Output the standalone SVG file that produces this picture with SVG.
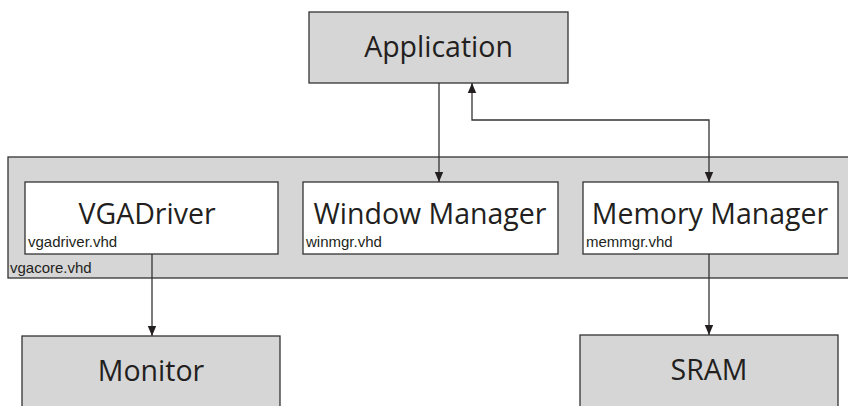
<svg xmlns="http://www.w3.org/2000/svg" width="848" height="406" viewBox="0 0 848 406">
  <style>
    .gray { fill: #d6d6d6; stroke: #333333; stroke-width: 1.3; }
    .white { fill: #ffffff; stroke: #333333; stroke-width: 1.3; }
    .title { font-family: "Open Sans", "Noto Sans", sans-serif; font-size: 28.5px; fill: #231f20; text-anchor: middle; }
    .file { font-family: "Liberation Sans", Arial, sans-serif; font-size: 15px; fill: #231f20; }
    .wire { fill: none; stroke: #333333; stroke-width: 1.3; }
  </style>
  <defs>
    <marker id="head" viewBox="0 0 10 10" refX="10" refY="5" markerWidth="10" markerHeight="10" markerUnits="userSpaceOnUse" orient="auto-start-reverse">
      <path d="M0,0.8 L10,5 L0,9.2 Z" fill="#231f20"/>
    </marker>
  </defs>

  <!-- top level application -->
  <g id="application">
    <rect class="gray" x="309" y="12" width="259" height="71"/>
    <text class="title" x="438.5" y="57">Application</text>
  </g>

  <!-- vgacore container with its three sub-blocks -->
  <g id="vgacore">
    <rect class="gray" x="8" y="157" width="850" height="121"/>
    <text class="file" x="10" y="273">vgacore.vhd</text>
  </g>
  <g id="vgadriver">
    <rect class="white" x="25" y="182" width="253" height="72"/>
    <text class="title" x="147" y="224">VGADriver</text>
    <text class="file" x="28" y="247">vgadriver.vhd</text>
  </g>
  <g id="winmgr">
    <rect class="white" x="303" y="182" width="255" height="72"/>
    <text class="title" x="430" y="224">Window Manager</text>
    <text class="file" x="306" y="247">winmgr.vhd</text>
  </g>
  <g id="memmgr">
    <rect class="white" x="583" y="182" width="255" height="72"/>
    <text class="title" x="710" y="224">Memory Manager</text>
    <text class="file" x="586" y="247">memmgr.vhd</text>
  </g>

  <!-- external devices -->
  <g id="monitor">
    <rect class="gray" x="22" y="336" width="258" height="90"/>
    <text class="title" x="151" y="381">Monitor</text>
  </g>
  <g id="sram">
    <rect class="gray" x="580" y="335" width="258" height="90"/>
    <text class="title" x="709" y="380">SRAM</text>
  </g>

  <!-- connectors -->
  <g id="connectors">
    <path class="wire" d="M439,83 V182" marker-end="url(#head)"/>
    <path class="wire" d="M709,182 V120 H472 V83" marker-start="url(#head)" marker-end="url(#head)"/>
    <path class="wire" d="M152,254 V336" marker-end="url(#head)"/>
    <path class="wire" d="M709,254 V335" marker-end="url(#head)"/>
  </g>
</svg>
